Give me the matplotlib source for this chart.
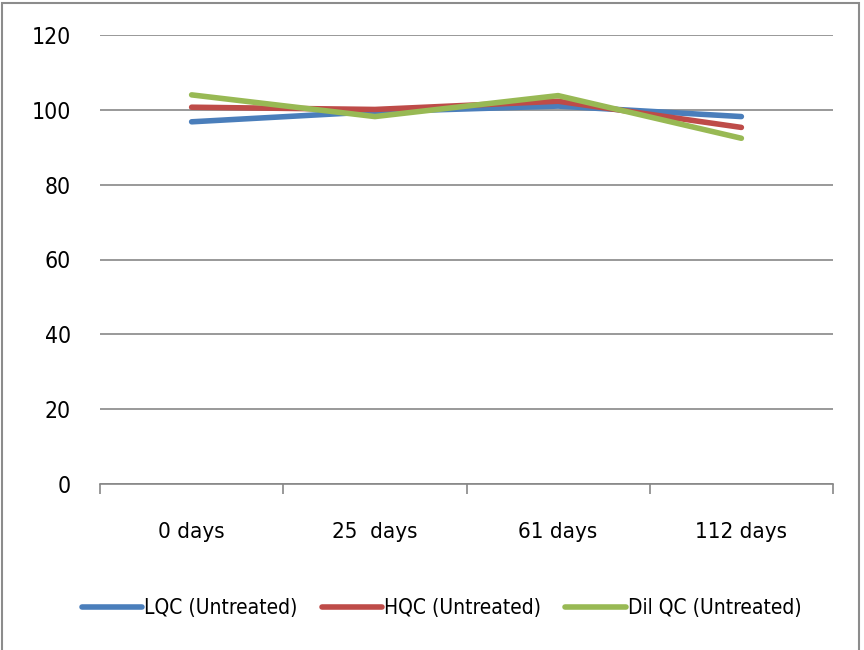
import matplotlib.pyplot as plt
from matplotlib.patches import Rectangle
from matplotlib import font_manager

_pref = ['Liberation Sans Narrow', 'DejaVu Sans']
_avail = {f.name for f in font_manager.fontManager.ttflist}
plt.rcParams['font.family'] = [f for f in _pref if f in _avail] or ['DejaVu Sans']
plt.rcParams['font.stretch'] = 'condensed'

categories = ['0 days', '25  days', '61 days', '112 days']
lqc = [96.8, 99.5, 101.0, 98.2]
hqc = [100.7, 100.1, 102.3, 95.3]
dil = [104.0, 98.2, 103.8, 92.4]

C_BLUE = '#4A7EBB'; C_RED = '#BE4B48'; C_GREEN = '#98B954'; C_GRID = '#878787'

fig = plt.figure(figsize=(8.64, 6.5), dpi=100)
ax = fig.add_axes([100/864, 1 - 484/650, 733/864, 449/650])

x = range(len(categories))
ax.plot(x, lqc, color=C_BLUE, lw=4, solid_capstyle='round', label='LQC (Untreated)')
ax.plot(x, hqc, color=C_RED, lw=4, solid_capstyle='round', label='HQC (Untreated)')
ax.plot(x, dil, color=C_GREEN, lw=4, solid_capstyle='round', label='Dil QC (Untreated)')

ax.set_xlim(-0.5, len(categories) - 0.5)
ax.set_ylim(0, 120)
ax.set_yticks(range(0, 121, 20))
ax.grid(axis='y', color=C_GRID, lw=1.2)
ax.set_axisbelow(True)
for s in ('top', 'right', 'left'):
    ax.spines[s].set_visible(False)
ax.spines['bottom'].set_color(C_GRID)
ax.spines['bottom'].set_linewidth(1.2)

# category labels centred, tick marks on the boundaries
ax.set_xticks(list(x))
ax.set_xticklabels(categories, fontsize=16)
ax.tick_params(axis='x', length=0, pad=27)
ax.set_xticks([i - 0.5 for i in range(len(categories) + 1)], minor=True)
ax.tick_params(axis='x', which='minor', length=7, width=1.2, color=C_GRID, direction='out')
ax.tick_params(axis='y', length=0, labelsize=16.5, pad=21)

ax.legend(loc='upper center', bbox_to_anchor=(0.466, -0.213), ncol=3, frameon=False,
          fontsize=15, handlelength=2.9, handletextpad=0.1, columnspacing=1.15)

fig.patches.append(Rectangle((2/864, -0.01), 857/864, 1 - 3/650 + 0.01,
                             transform=fig.transFigure, fill=False,
                             edgecolor='#8c8c8c', lw=1.5))

fig.savefig('out.png', dpi=100)
